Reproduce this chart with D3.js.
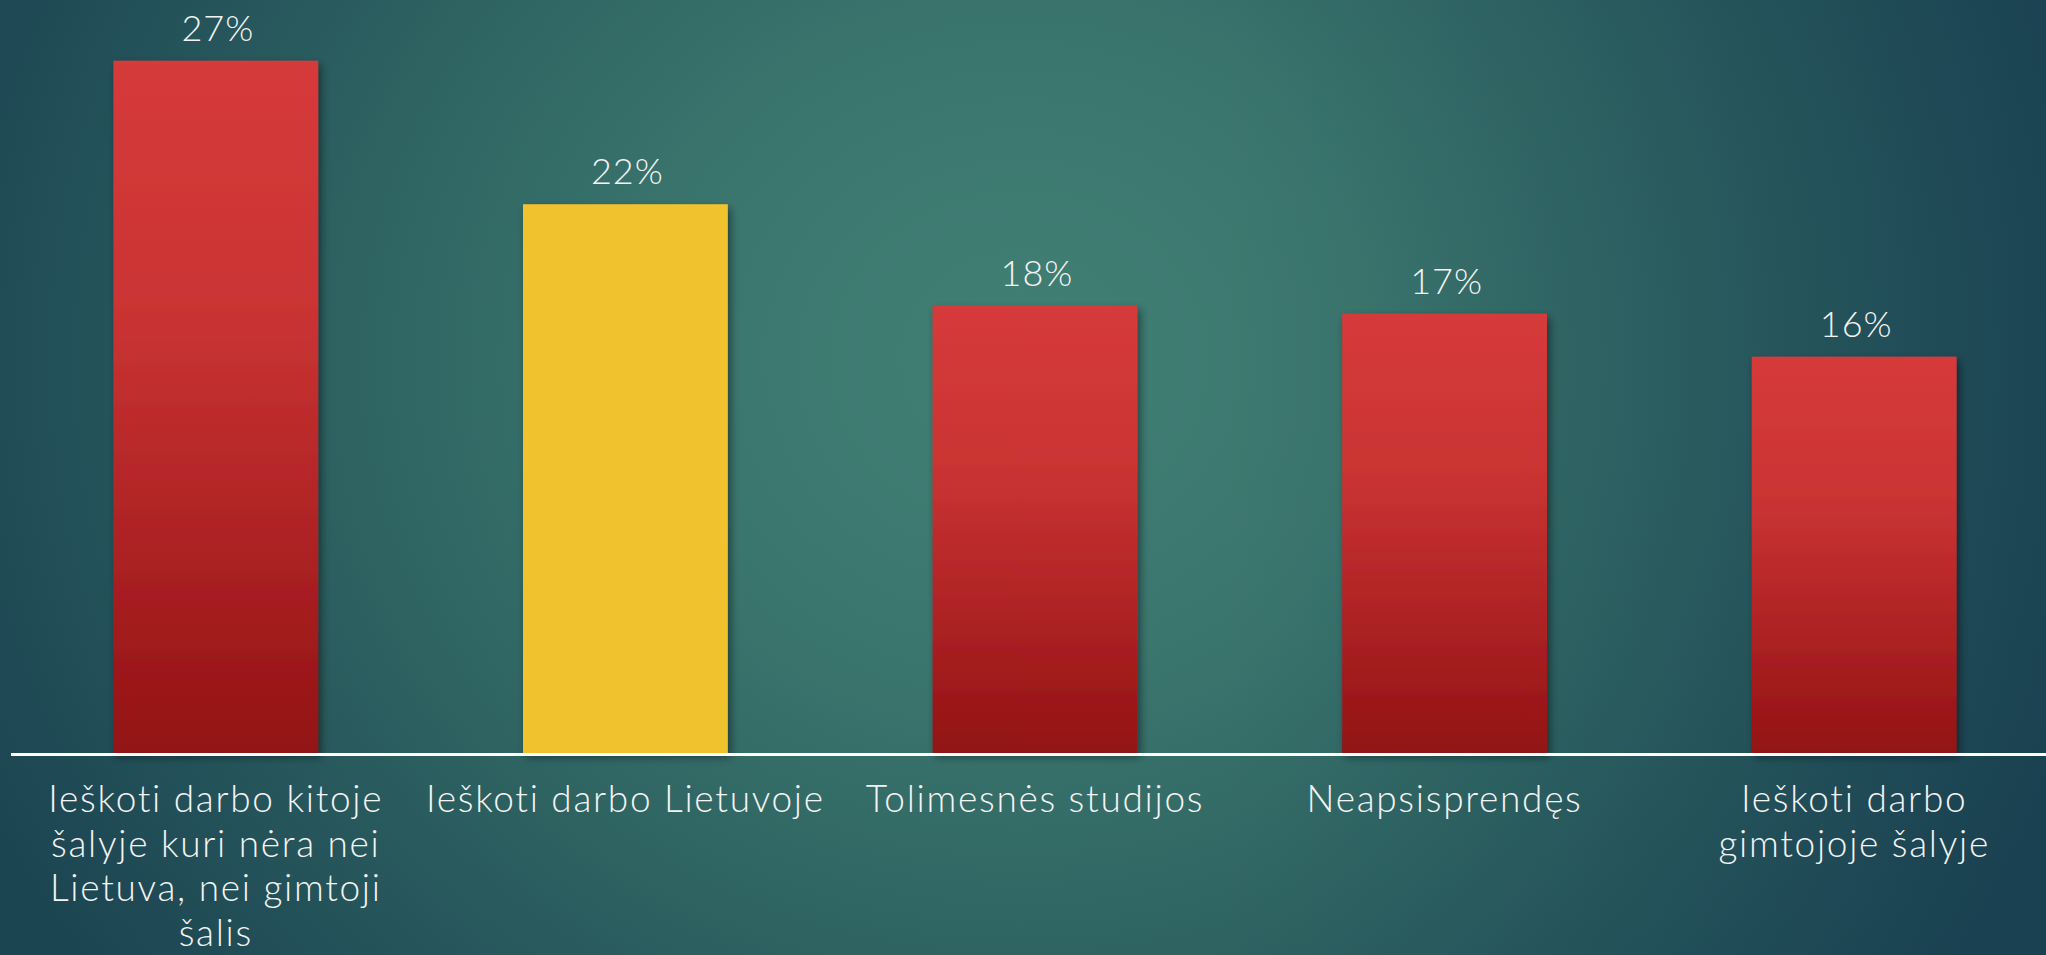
<!DOCTYPE html>
<html>
<head>
<meta charset="utf-8">
<script src="https://cdn.jsdelivr.net/npm/d3@7"></script>
<style>
  html, body { margin: 0; padding: 0; background: #1e4a52; overflow: hidden; }
  svg { display: block; }
  text { font-family: "Lato", "Open Sans", sans-serif; font-weight: 300; fill: #f4f4f4; }
</style>
</head>
<body>
<svg id="chart" width="2046" height="955"></svg>
<script>
const categories = [
  "Ieškoti darbo kitoje\nšalyje kuri nėra nei\nLietuva, nei gimtoji\nšalis",
  "Ieškoti darbo Lietuvoje",
  "Tolimesnės studijos",
  "Neapsisprendęs",
  "Ieškoti darbo\ngimtojoje šalyje"
];
const values = [27.3, 21.64, 17.64, 17.32, 15.63];
const valueLabels = ["27%", "22%", "18%", "17%", "16%"];
const barColors = ["red", "yellow", "red", "red", "red"];

const W = 2046, H = 955;
const svg = d3.select("#chart");
const defs = svg.append("defs");

// background
const bg = defs.append("radialGradient").attr("id", "bg")
  .attr("gradientUnits", "userSpaceOnUse")
  .attr("cx", 1020).attr("cy", 360).attr("r", 1150)
  .attr("gradientTransform", "translate(1020,360) scale(1,0.9) translate(-1020,-360)");
[[0, "#417f74"], [0.3, "#3b766e"], [0.6, "#2d6261"], [0.85, "#224f58"], [1, "#1c4552"]]
  .forEach(([o, c]) => bg.append("stop").attr("offset", o).attr("stop-color", c));
const bgLin = defs.append("linearGradient").attr("id", "bgLin")
  .attr("x1", 0).attr("y1", 0).attr("x2", 1).attr("y2", 0);
[[0, "#1b4a55", 0.0], [0.6, "#1b4555", 0.0], [1, "#15394f", 0.35]]
  .forEach(([o, c, a]) => bgLin.append("stop").attr("offset", o).attr("stop-color", c).attr("stop-opacity", a));

svg.append("rect").attr("width", W).attr("height", H).attr("fill", "url(#bg)");
svg.append("rect").attr("width", W).attr("height", H).attr("fill", "url(#bgLin)");

// bar gradients
const red = defs.append("linearGradient").attr("id", "redGrad")
  .attr("x1", 0).attr("y1", 0).attr("x2", 0).attr("y2", 1);
[[0, "#d63a3a"], [0.35, "#cb3433"], [0.7, "#ad2224"], [1, "#921213"]]
  .forEach(([o, c]) => red.append("stop").attr("offset", o).attr("stop-color", c));

const shadow = defs.append("filter").attr("id", "shadow")
  .attr("x", "-10%").attr("y", "-10%").attr("width", "130%").attr("height", "130%");
shadow.append("feDropShadow").attr("dx", 3).attr("dy", 4).attr("stdDeviation", 4)
  .attr("flood-color", "#000").attr("flood-opacity", 0.45);

const x = d3.scaleBand().domain(categories).range([11, 2059])
  .paddingInner(0.5).paddingOuter(0.25);
const y = d3.scaleLinear().domain([0, 30]).range([753, -7.8]);

svg.append("g").selectAll("rect").data(values).join("rect")
  .attr("x", (d, i) => x(categories[i]))
  .attr("y", d => y(d))
  .attr("width", x.bandwidth())
  .attr("height", d => y(0) - y(d))
  .attr("fill", (d, i) => barColors[i] === "yellow" ? "#efc22e" : "url(#redGrad)")
  .attr("filter", "url(#shadow)");

// axis line
const xAxis = d3.axisBottom(x).tickSize(0).tickFormat("");
const axisG = svg.append("g").attr("transform", `translate(0,${y(0) + 1.5})`).call(xAxis);
axisG.select(".domain").attr("stroke", "#ffffff").attr("stroke-width", 3)
  .attr("d", "M11,0H2046");

// value labels
svg.append("g").selectAll("text").data(values).join("text")
  .attr("x", (d, i) => x(categories[i]) + x.bandwidth() / 2 + 2)
  .attr("y", d => y(d) - 20)
  .attr("text-anchor", "middle")
  .attr("font-size", 36)
  .attr("letter-spacing", 1)
  .text((d, i) => valueLabels[i]);

// category labels
const lab = svg.append("g").selectAll("text").data(categories).join("text")
  .attr("text-anchor", "middle")
  .attr("font-size", 37)
  .attr("letter-spacing", 1.7)
  .attr("x", d => x(d) + x.bandwidth() / 2)
  .attr("y", 812);
lab.each(function(d) {
  const t = d3.select(this);
  d.split("\n").forEach((line, k) => {
    t.append("tspan").attr("x", x(d) + x.bandwidth() / 2)
      .attr("dy", k === 0 ? 0 : 44.5).text(line);
  });
});
</script>
</body>
</html>
